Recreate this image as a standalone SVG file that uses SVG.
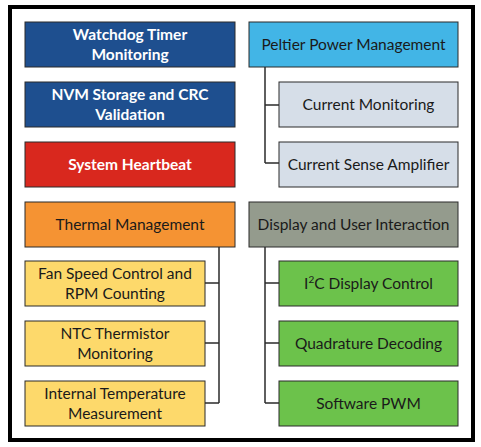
<svg xmlns="http://www.w3.org/2000/svg" width="481" height="447" viewBox="0 0 481 447">
<style>
.box{stroke:#2b2b2b;stroke-width:1}
.t{font-family:Lato,"Liberation Sans",sans-serif;font-size:15.5px;fill:#1a1a1a;text-anchor:middle}
.tb{font-family:Lato,"Liberation Sans",sans-serif;font-size:15.5px;font-weight:bold;fill:#ffffff;text-anchor:middle}
.blue{fill:#1E4F8F}
.red{fill:#D9281E}
.lblue{fill:#42B5E6}
.grey{fill:#D6DEE8}
.orange{fill:#F59333}
.yellow{fill:#FDD96B}
.dgrey{fill:#949B8D}
.green{fill:#6CC24B}
.c{fill:none;stroke:#2b2b2b;stroke-width:1.5}
</style>
<rect x="0" y="0" width="481" height="447" fill="#ffffff"/>
<rect x="10" y="7" width="463" height="433" fill="#ffffff" stroke="#000" stroke-width="4"/>
<g id="connectors">
<path class="c" d="M265 67V163M265 105H279M265 163H279"/>
<path class="c" d="M219 247V403M205 283H219M205 343H219M205 403H219"/>
<path class="c" d="M265 247V403M265 283H279M265 343H279M265 403H279"/>
</g>
<g id="watchdog"><rect class="box blue" x="25" y="22" width="210" height="45"/><text class="tb" x="130" y="39.5">Watchdog Timer</text><text class="tb" x="130" y="59.5">Monitoring</text></g>
<g id="nvm"><rect class="box blue" x="25" y="82" width="210" height="45"/><text class="tb" x="130" y="99.5">NVM Storage and CRC</text><text class="tb" x="130" y="119.5">Validation</text></g>
<g id="heartbeat"><rect class="box red" x="25" y="142" width="210" height="45"/><text class="tb" x="130" y="170">System Heartbeat</text></g>
<g id="peltier"><rect class="box lblue" x="249" y="22" width="209" height="45"/><text class="t" x="353.5" y="50">Peltier Power Management</text></g>
<g id="current-monitoring"><rect class="box grey" x="279" y="82" width="179" height="45"/><text class="t" x="368.5" y="110">Current Monitoring</text></g>
<g id="current-sense"><rect class="box grey" x="279" y="142" width="179" height="45"/><text class="t" x="368.5" y="170">Current Sense Amplifier</text></g>
<g id="thermal"><rect class="box orange" x="25" y="202" width="210" height="45"/><text class="t" x="130" y="230">Thermal Management</text></g>
<g id="fan"><rect class="box yellow" x="25" y="261" width="180" height="45"/><text class="t" x="115" y="278.5">Fan Speed Control and</text><text class="t" x="115" y="298.5">RPM Counting</text></g>
<g id="ntc"><rect class="box yellow" x="25" y="321" width="180" height="45"/><text class="t" x="115" y="338.5">NTC Thermistor</text><text class="t" x="115" y="358.5">Monitoring</text></g>
<g id="internal-temp"><rect class="box yellow" x="25" y="381" width="180" height="45"/><text class="t" x="115" y="398.5">Internal Temperature</text><text class="t" x="115" y="418.5">Measurement</text></g>
<g id="display"><rect class="box dgrey" x="249" y="202" width="209" height="45"/><text class="t" x="353.5" y="230">Display and User Interaction</text></g>
<g id="i2c"><rect class="box green" x="279" y="261" width="179" height="45"/><text class="t" x="368.5" y="289">I<tspan font-size="10" dy="-6">2</tspan><tspan dy="6">C Display Control</tspan></text></g>
<g id="quadrature"><rect class="box green" x="279" y="321" width="179" height="45"/><text class="t" x="368.5" y="349">Quadrature Decoding</text></g>
<g id="pwm"><rect class="box green" x="279" y="381" width="179" height="45"/><text class="t" x="368.5" y="409">Software PWM</text></g>
</svg>
